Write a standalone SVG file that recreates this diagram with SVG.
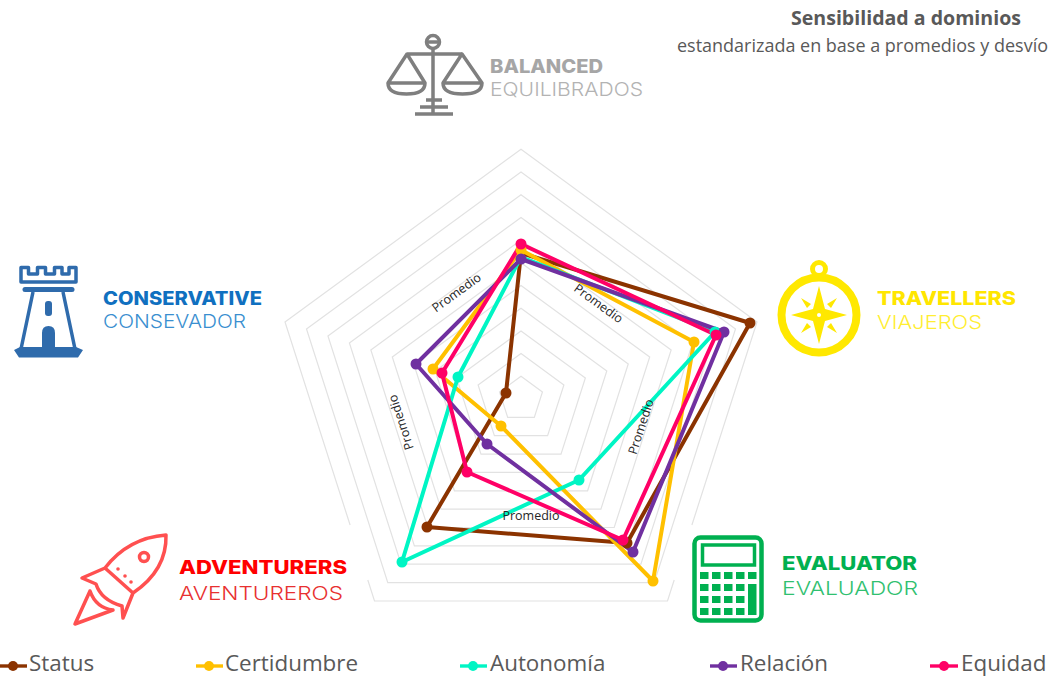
<svg xmlns="http://www.w3.org/2000/svg" width="1049" height="676" viewBox="0 0 1049 676">
<style>
text{font-family:"Open Sans","Liberation Sans",sans-serif}
.ring{fill:none;stroke:#E2E2E2;stroke-width:1.2}
.s{fill:none;stroke-width:4;stroke-linejoin:round}
.prom{font-size:12.5px;fill:#262626;text-anchor:middle}
.hd{font-family:"Inter","Liberation Sans",sans-serif;font-size:18.500px;font-weight:800}
.sb{font-family:"Inter","Liberation Sans",sans-serif;font-size:19px;font-weight:300}
.lg{font-size:22.400px;fill:#595959}
.st{stroke:#8B3300}.ce{stroke:#FFC000}.au{stroke:#00F5C4}.re{stroke:#7030A0}.eq{stroke:#FF0066}
.fst{fill:#8B3300}.fce{fill:#FFC000}.fau{fill:#00F5C4}.fre{fill:#7030A0}.feq{fill:#FF0066}
.ll{stroke-width:3.4;fill:none}
</style>
<g id="title">
<text x="791" y="25" font-size="19" font-weight="700" fill="#595959" textLength="230" lengthAdjust="spacingAndGlyphs">Sensibilidad a dominios</text>
<text x="677" y="52" font-size="18" fill="#595959" textLength="371" lengthAdjust="spacingAndGlyphs">estandarizada en base a promedios y desvío</text>
</g>
<g id="grid">
<polygon class="ring" points="521,376.3 542.45,392 534.3,417.4 507.7,417.4 499.55,392"/>
<polygon class="ring" points="521,353.6 563.9,385 547.6,435.7 494.4,435.7 478.1,385"/>
<polygon class="ring" points="521,330.9 585.35,378 561,454.1 481,454.1 456.65,378"/>
<polygon class="ring" points="521,308.2 606.8,371 574.3,472.4 467.7,472.4 435.2,371"/>
<polygon class="ring" points="521,285.5 628.25,364 587.6,490.8 454.4,490.8 413.75,364"/>
<polygon class="ring" points="521,262.8 649.7,357 600.9,509.2 441.1,509.2 392.3,357"/>
<polygon class="ring" points="521,240.1 671.15,350 614.2,527.5 427.8,527.5 370.85,350"/>
<polygon class="ring" points="521,217.4 692.6,343 627.6,545.9 414.4,545.9 349.4,343"/>
<polygon class="ring" points="521,194.7 714.05,336 640.9,564.2 401.1,564.2 327.95,336"/>
<polygon class="ring" points="521,172 735.5,329 654.2,582.6 387.8,582.6 306.5,329"/>
<path class="ring" d="M350.1 525L285 322L521 149.3L757 322L691.9 525M674.2 580L667.5 601L374.5 601L367.8 580"/>
</g>
<g id="connectors">
<polygon class="s st" points="521,253 750,323 627,543 427,527 506,393"/>
<polygon class="s ce" points="521,250 694,342 653,581 501,426 433,369"/>
<polygon class="s au" points="521,257 715,332 579,480 402,562 458,377"/>
<polygon class="s re" points="521,259 724,332 633,552 487,444 416,364"/>
<polygon class="s eq" points="521,244 716,335 623,540 467,472 442,373"/>
</g>
<g id="markers">
<g class="fst"><circle cx="750" cy="323" r="5.500"/><circle cx="627" cy="543" r="5.500"/><circle cx="427" cy="527" r="5.500"/><circle cx="506" cy="393" r="5.500"/></g>
<g class="fce"><circle cx="521" cy="250" r="5.500"/><circle cx="694" cy="342" r="5.500"/><circle cx="653" cy="581" r="5.500"/><circle cx="501" cy="426" r="5.500"/><circle cx="433" cy="369" r="5.500"/></g>
<g class="fau"><circle cx="715" cy="332" r="5.500"/><circle cx="579" cy="480" r="5.500"/><circle cx="402" cy="562" r="5.500"/><circle cx="458" cy="377" r="5.500"/></g>
<g class="fre"><circle cx="521" cy="259" r="5.500"/><circle cx="724" cy="332" r="5.500"/><circle cx="633" cy="552" r="5.500"/><circle cx="487" cy="444" r="5.500"/><circle cx="416" cy="364" r="5.500"/></g>
<g class="feq"><circle cx="521" cy="244" r="5.500"/><circle cx="716" cy="335" r="5.500"/><circle cx="623" cy="540" r="5.500"/><circle cx="467" cy="472" r="5.500"/><circle cx="442" cy="373" r="5.500"/></g>
</g>
<g id="promedio-labels">
<text class="prom" transform="translate(459,296) rotate(-36)">Promedio</text>
<text class="prom" transform="translate(596,307) rotate(36)">Promedio</text>
<text class="prom" transform="translate(645,428) rotate(-72)">Promedio</text>
<text class="prom" transform="translate(405,421) rotate(-108)">Promedio</text>
<text class="prom" x="531" y="520">Promedio</text>
</g>
<g id="balanced">
<g fill="none" stroke="#7F7F7F" stroke-width="3.500" stroke-linejoin="round">
<circle cx="433" cy="42" r="6.500"/><path d="M427 42H439M433 48.500V114M407 54H462M407 54L388 83H425ZM388 83Q388 94 406.500 94Q425 94 425 83M462 54L443 83H482ZM443 83Q443 94 462.500 94Q482 94 482 83M426 100H442M420 107H448M415 114H453"/>
</g>
<text class="hd" x="490" y="73" fill="#A6A6A6" textLength="113" lengthAdjust="spacingAndGlyphs">BALANCED</text>
<text class="sb" x="490" y="96" fill="#B3B3B3" textLength="153" lengthAdjust="spacingAndGlyphs">EQUILIBRADOS</text>
</g>
<g id="conservative">
<path fill="none" stroke="#2F6BAC" stroke-width="3.500" stroke-linejoin="round" d="M21 267.500H28.500V274H37.500V267.500H45.500V274H54.500V267.500H62V274H69V267.500H76V282H21ZM33 292L21 349M63 292L75 349"/>
<path fill="none" stroke="#2F6BAC" stroke-width="5" stroke-linecap="round" d="M25 289.500H72"/>
<path fill="#2F6BAC" d="M20 347L14 350L19 357.500H78L83 350L76 347H55V333Q55 326 48.500 326Q42 326 42 333V347Z"/>
<rect x="45" y="301" width="7" height="15" rx="3" fill="#2F6BAC"/>
<text class="hd" x="103" y="305" fill="#1070C0" textLength="159" lengthAdjust="spacingAndGlyphs">CONSERVATIVE</text>
<text class="sb" x="103" y="328" fill="#3A8FD0" textLength="143" lengthAdjust="spacingAndGlyphs">CONSEVADOR</text>
</g>
<g id="travellers">
<circle cx="819" cy="315" r="37.500" fill="none" stroke="#FFE800" stroke-width="8"/>
<circle cx="819" cy="269" r="6.500" fill="none" stroke="#FFE800" stroke-width="5"/>
<path fill="#FFE800" d="M819 286L825 309L847 315L825 321L819 344L813 321L791 315L813 309ZM801 298L811 304L807 308ZM837 298L831 308L827 304ZM801 333L807 323L811 327ZM837 333L827 327L831 323Z"/>
<circle cx="819" cy="315" r="2" fill="#fff"/>
<text class="hd" x="877" y="305" fill="#FFE600" textLength="139" lengthAdjust="spacingAndGlyphs">TRAVELLERS</text>
<text class="sb" x="877" y="329" fill="#FFEE33" textLength="105" lengthAdjust="spacingAndGlyphs">VIAJEROS</text>
</g>
<g id="adventurers">
<g fill="none" stroke="#FF5050" stroke-width="3.500" stroke-linejoin="round">
<path d="M166 535Q167 570 133 593L105 568Q128 538 166 535ZM105 568L82 578L96 584Q101 600 122 606L123 618L133 593"/>
<path d="M90 591L75 624L113 610Q96 608 90 591Z"/>
<circle cx="144" cy="557" r="4.500"/>
</g>
<g fill="#FF5050"><circle cx="118" cy="569" r="1.800"/><circle cx="125" cy="576" r="1.800"/><circle cx="131" cy="582" r="1.800"/></g>
<text class="hd" x="179" y="574" fill="#FF0000" textLength="168" lengthAdjust="spacingAndGlyphs">ADVENTURERS</text>
<text class="sb" x="179" y="600" fill="#E83030" textLength="164" lengthAdjust="spacingAndGlyphs">AVENTUREROS</text>
</g>
<g id="evaluator">
<rect x="694.500" y="537.500" width="67" height="83" rx="6" fill="none" stroke="#00B050" stroke-width="4.500"/>
<rect x="702.500" y="545" width="52" height="20" fill="none" stroke="#00B050" stroke-width="3.500"/>
<g fill="#00B050">
<rect x="700" y="572" width="8.500" height="7"/><rect x="712" y="572" width="8.500" height="7"/><rect x="724" y="572" width="8.500" height="7"/><rect x="736" y="572" width="8.500" height="7"/><rect x="748" y="572" width="8.500" height="7"/>
<rect x="700" y="584" width="8.500" height="7"/><rect x="712" y="584" width="8.500" height="7"/><rect x="724" y="584" width="8.500" height="7"/><rect x="736" y="584" width="8.500" height="7"/><rect x="748" y="584" width="8.500" height="31"/>
<rect x="700" y="596" width="8.500" height="7"/><rect x="712" y="596" width="8.500" height="7"/><rect x="724" y="596" width="8.500" height="7"/><rect x="736" y="596" width="8.500" height="7"/>
<rect x="700" y="608" width="8.500" height="7"/><rect x="712" y="608" width="8.500" height="7"/><rect x="724" y="608" width="8.500" height="7"/><rect x="736" y="608" width="8.500" height="7"/>
</g>
<text class="hd" x="782" y="570" fill="#00B050" textLength="135" lengthAdjust="spacingAndGlyphs">EVALUATOR</text>
<text class="sb" x="782" y="595" fill="#30C070" textLength="136" lengthAdjust="spacingAndGlyphs">EVALUADOR</text>
</g>
<g id="legend">
<g id="legend-status"><path class="ll st" d="M0 666H27"/><circle class="fst" cx="13" cy="666" r="5"/><text class="lg" x="29" y="671">Status</text></g>
<g id="legend-certidumbre"><path class="ll ce" d="M196 666H223"/><circle class="fce" cx="209" cy="666" r="5"/><text class="lg" x="225" y="671">Certidumbre</text></g>
<g id="legend-autonomia"><path class="ll au" d="M460 666H487"/><circle class="fau" cx="473" cy="666" r="5"/><text class="lg" x="490" y="671">Autonomía</text></g>
<g id="legend-relacion"><path class="ll re" d="M710 666H737"/><circle class="fre" cx="723" cy="666" r="5"/><text class="lg" x="740" y="671">Relación</text></g>
<g id="legend-equidad"><path class="ll eq" d="M930 666H958"/><circle class="feq" cx="944" cy="666" r="5"/><text class="lg" x="961" y="671">Equidad</text></g>
</g>
</svg>
